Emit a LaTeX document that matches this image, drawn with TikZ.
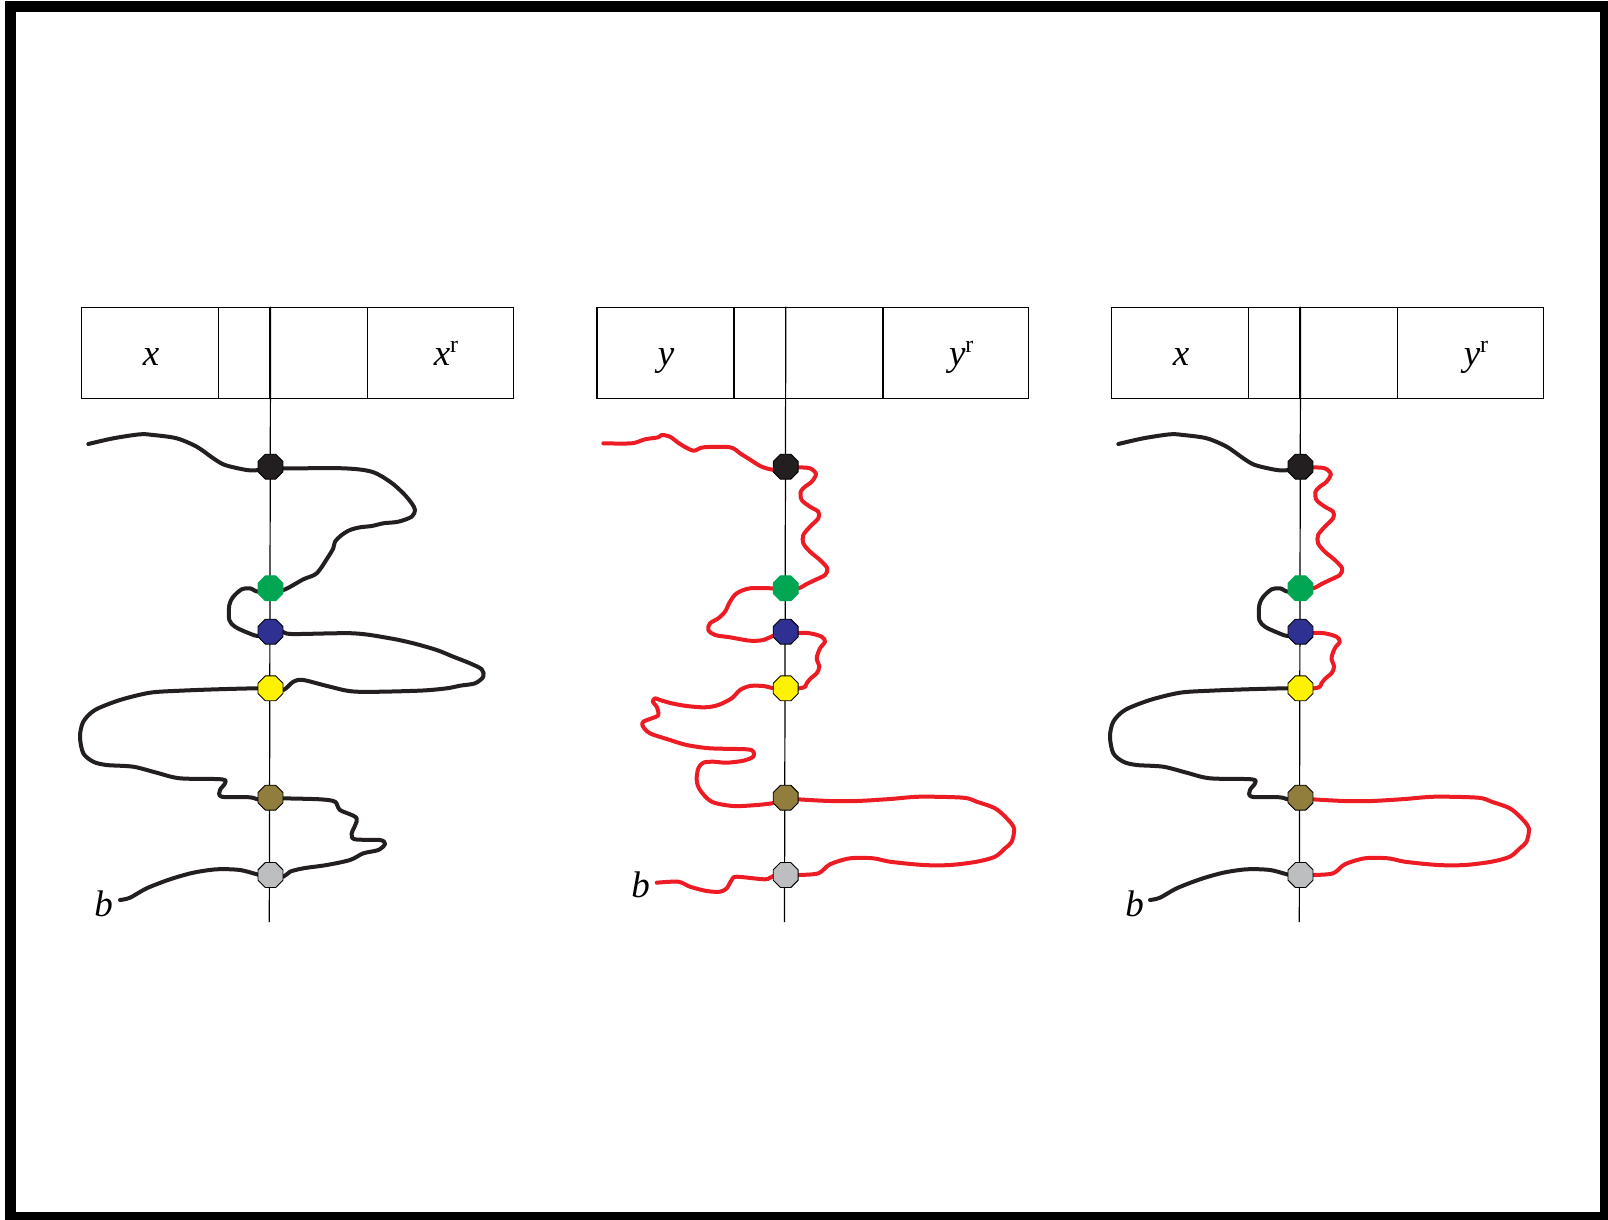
\documentclass[tikz,border=0pt]{standalone}
\usepackage{fontspec}
\setmainfont{Liberation Serif}
\usetikzlibrary{shapes.geometric}
\definecolor{curveblack}{RGB}{35,31,32}
\definecolor{curvered}{RGB}{237,28,36}
\definecolor{dotblack}{RGB}{35,31,32}
\definecolor{dotgreen}{RGB}{0,166,81}
\definecolor{dotblue}{RGB}{46,49,146}
\definecolor{dotyellow}{RGB}{255,242,0}
\definecolor{dotbrown}{RGB}{145,126,60}
\definecolor{dotgray}{RGB}{188,190,192}
\tikzset{
  crv/.style={line width=4pt, line join=round, line cap=round},
  blk/.style={crv, draw=curveblack},
  rd/.style={crv, draw=curvered},
  cell/.style={draw, line width=1.3pt, minimum height=91.3pt, inner sep=0pt, anchor=north west},
  axisline/.style={line width=1.2pt},
  dot/.style={regular polygon, regular polygon sides=8, minimum size=27pt, inner sep=0pt, draw=black, line width=0.9pt},
  lab/.style={font=\fontsize{37}{37}\selectfont\itshape, anchor=base, inner sep=0pt},
  frame/.style={line width=11pt},
}
\newcommand\supr{\raisebox{13pt}{\fontsize{24}{24}\selectfont\upshape r}}
\newcommand\drawpanel[4]{%
\begin{scope}[xshift=#1]
  \node[cell, minimum width=137pt] (#4a) at (81,306.7) {};
  \node[cell, minimum width=51.3pt] (#4b) at (218,306.7) {};
  \node[cell, minimum width=97.7pt] (#4c) at (269.3,306.7) {};
  \node[cell, minimum width=145.7pt] (#4d) at (367,306.7) {};
  \coordinate (#4end) at (269.3,922);
  \draw[axisline] (#4b.north east) -- (#4end);
  \node[lab] (#4L) at (151,365) {#2};
  \node[lab] (#4R) at (446,365) {#3};
\end{scope}}
\newcommand\drawdots[2]{%
\begin{scope}[xshift=#1]
  \node[dot, fill=dotblack] (#2k) at (270.5,466.7) {};
  \node[dot, fill=dotgreen, draw=dotgreen] (#2g) at (270.5,588.3) {};
  \node[dot, fill=dotblue] (#2u) at (270.5,631.7) {};
  \node[dot, fill=dotyellow] (#2y) at (270.5,688.3) {};
  \node[dot, fill=dotbrown] (#2w) at (270.5,797.7) {};
  \node[dot, fill=dotgray] (#2s) at (270.5,875) {};
\end{scope}}
% panel 1 black segments
\newcommand\blackA{\draw[blk] plot[smooth,tension=0.5] coordinates {(88.3,444) (113.3,438.3) (140,434.3) (153.3,435) (176.7,438.3) (196.7,446.7) (213.3,458.3) (225,465) (246.7,470) (258.3,470) (270.5,466.7)};}
\newcommand\blackB{\draw[blk] plot[smooth,tension=0.5] coordinates {(270.5,466.7) (283.3,468.3) (343.3,468.3) (371.7,471.7) (390,481.7) (403.3,493.3) (411.7,503.3) (415,510) (411.7,516.7) (398.3,521.7) (383.3,523.3) (371.7,526) (360,527.3) (350,530) (341.7,535) (335,541.7) (333.3,548.3) (328.3,556.7) (316.7,573.3) (303.3,579.3) (283.3,590) (271,588.3)};}
\newcommand\blackC{\draw[blk] plot[smooth,tension=0.5] coordinates {(271,588.3) (258.3,591.7) (250,588.3) (241.7,589.3) (233.3,596.7) (229.3,605) (229.3,620) (235,626.7) (246.7,632.3) (258.3,636) (270.5,631.7)};}
\newcommand\blackD{\draw[blk] plot[smooth,tension=0.5] coordinates {(270.5,631.7) (281.7,631) (291.7,634) (353.3,633.3) (390,638.3) (413.3,643.3) (436.7,650) (453.3,656.7) (470,663.3) (481.7,669.3) (483.3,676.7) (475,683.3) (460,685.7) (446.7,688.3) (418.3,690.7) (356.7,691.7) (330,686.7) (303.3,680) (293.3,681.7) (283.3,690) (270.5,688.3)};}
\newcommand\blackE{\draw[blk] plot[smooth,tension=0.5] coordinates {(270.5,688.3) (255,688.3) (216.7,689.3) (180,690.7) (150,692.7) (120,700) (95,710) (83.3,721.7) (80,736.7) (83.3,753.3) (93.3,761.7) (106.7,765) (133.3,766.7) (156.7,772.7) (180,778.3) (221.7,779.3) (225,783.3) (220,790) (221.7,796.7) (250,797.3) (260,800) (270.5,797.7)};}
\newcommand\blackF{\draw[blk] plot[smooth,tension=0.5] coordinates {(270.5,797.7) (283.3,798.3) (320,799.3) (335,801.7) (340,810) (356.7,818.3) (351.7,833.3) (355,839.3) (380,840) (385,844) (378.3,850) (363.3,853.3) (350,860) (326.7,865) (303.3,868.3) (290,871.7) (283.3,876.7) (270.5,875)};}
\newcommand\blackG{\draw[blk] plot[smooth,tension=0.5] coordinates {(270.5,875) (260,875) (240,870) (216.7,869.3) (193.3,872.7) (170,879.3) (146.7,888.3) (130,897.7) (120,900)};}
% panel 2 red segments
\newcommand\redA{\draw[rd] plot[smooth,tension=0.5] coordinates {(603.3,443.3) (631.7,443.3) (645,439.3) (658.3,437.3) (661.7,435) (670,436.7) (680,444) (693.3,450.7) (703.3,447.3) (730,447.3) (740,453.3) (751.7,460.7) (761.7,466.7) (775,470) (785.7,466.7)};}
\newcommand\redB{\draw[rd] plot[smooth,tension=0.5] coordinates {(785.7,466.7) (798.3,467.3) (810,468.3) (816,474) (811.7,481.7) (805,486.7) (800.7,491.7) (801.7,500) (810,506.7) (818.3,511.7) (818.3,518.3) (810,526.7) (803.3,535) (803.3,543.3) (810,551.7) (820,560) (827.3,568.3) (825,575) (815,580) (806.7,584) (798.3,588.3) (785.7,588.3)};}
\newcommand\redC{\draw[rd] plot[smooth,tension=0.5] coordinates {(785.7,588.3) (773.3,588.3) (750,588.3) (736.7,593.3) (730,601.7) (725,611.7) (718.3,618.3) (710,623.3) (708.3,630) (715,635) (730,637.3) (750,640.7) (763.3,640) (772.7,636) (785.7,631.7)};}
\newcommand\redD{\draw[rd] plot[smooth,tension=0.5] coordinates {(785.7,631.7) (796.7,632.7) (810,633.3) (821.7,636.7) (825,641.7) (820,648.3) (816.7,658.3) (819.3,666.7) (816.7,673.3) (810.7,678.3) (806.7,683.3) (805,686.7) (799.3,688.3) (785.7,688.3)};}
\newcommand\redE{\draw[rd] plot[smooth,tension=0.5] coordinates {(785.7,688.3) (774,688.3) (763.3,686) (750,686) (740,690) (731.7,698.3) (718.3,705) (705,707.3) (686.7,706) (671.7,703.3) (660,700) (655,698.3) (652.7,701.7) (656.7,706.7) (658.3,715) (651.7,718.3) (643.3,721.7) (642.7,726) (650,733.3) (670,740) (686.7,745) (710,748.3) (746.7,749.3) (753.3,751.7) (753.3,756.7) (743.3,760.7) (726.7,762.7) (713.3,761.7) (703.3,762.7) (698.3,768.3) (696.7,780) (700,790) (711.7,801.7) (733.3,806) (756.7,805) (775,802.7) (785.7,797.7)};}
\newcommand\redF{\draw[rd] plot[smooth,tension=0.5] coordinates {(785.7,797.7) (798.3,799.3) (830,801) (856.7,801) (890,799) (920,796.7) (963.3,797.7) (976.7,801.7) (995,808.3) (1006.7,818.3) (1014,828.3) (1011.7,841.7) (1005,848.3) (995,856.7) (976.7,861.7) (950,865) (923.3,865) (890,861.7) (873.3,858.3) (850,858.3) (830,864.3) (818.3,873.3) (798.3,875) (785.7,875)};}
\newcommand\redG{\draw[rd] plot[smooth,tension=0.5] coordinates {(785.7,875) (773.3,876) (765,879.3) (736.7,876.7) (731.7,880) (726.7,888.3) (720,891.7) (706.7,891) (690,886.7) (678.3,881.7) (656.7,882.7)};}

\begin{document}
\begin{tikzpicture}[x=1pt,y=-1pt]
  \useasboundingbox (0,0) rectangle (1608,1219);
  \clip (0,0) rectangle (1608,1219);
  \fill[white] (0,0) rectangle (1608,1219);
  \draw[frame] (10.5,6) rectangle (1605.5,1217.2);

  \drawpanel{0pt}{x}{x\supr}{p}
  \drawpanel{515.2pt}{y}{y\supr}{q}
  \drawpanel{1030pt}{x}{y\supr}{r}

  % panel 1
  \blackA \blackB \blackC \blackD \blackE \blackF \blackG
  % panel 2
  \redA \redB \redC \redD \redE \redF \redG
  % panel 3
  \begin{scope}[xshift=1030pt]
    \blackA \blackC \blackE \blackG
  \end{scope}
  \begin{scope}[xshift=514.8pt]
    \redB \redD \redF
  \end{scope}

  \drawdots{0pt}{p}
  \drawdots{515.2pt}{q}
  \drawdots{1030pt}{r}

  \node[lab] (pb) at (103.5,916.7) {b};
  \node[lab] (qb) at (640.5,897.3) {b};
  \node[lab] (rb) at (1134.5,916.7) {b};
\end{tikzpicture}
\end{document}
